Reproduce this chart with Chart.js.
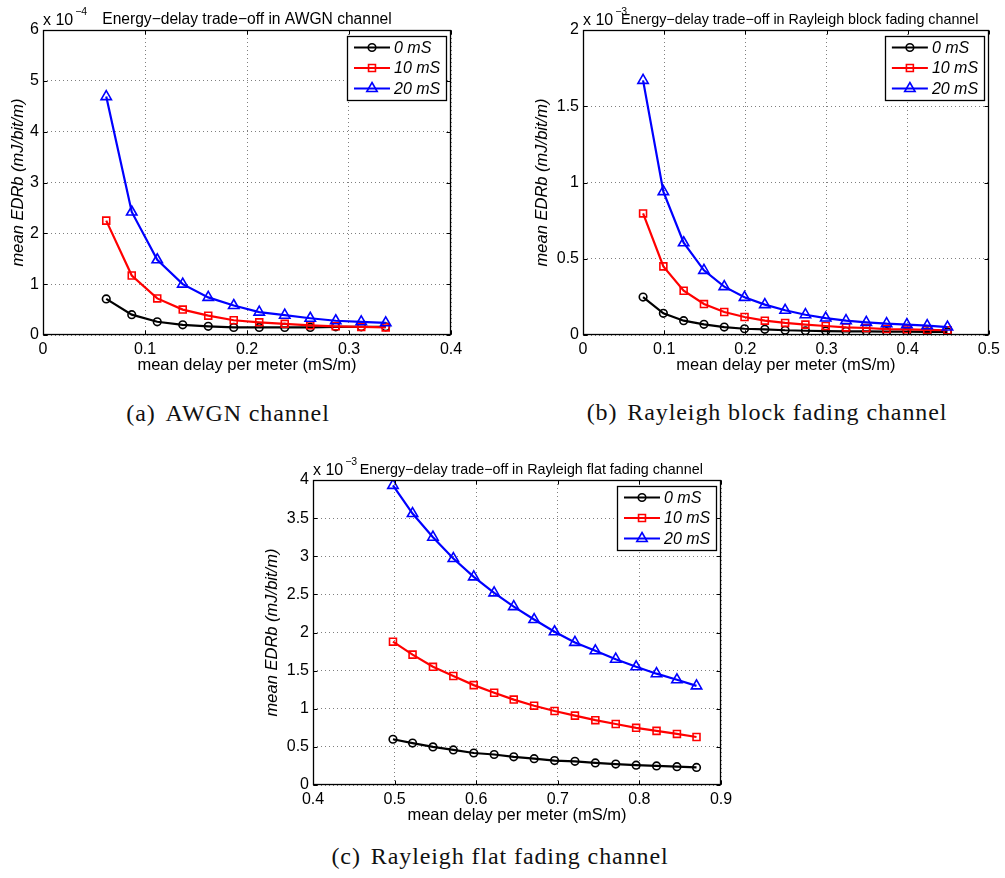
<!DOCTYPE html>
<html>
<head>
<meta charset="utf-8">
<script src="https://cdn.jsdelivr.net/npm/chart.js@4.4.1/dist/chart.umd.min.js"></script>
<style>
html,body{margin:0;padding:0;background:#fff;}
body{width:1005px;height:878px;position:relative;overflow:hidden;}
canvas{position:absolute;}
.cap{position:absolute;font-family:"Liberation Serif","Times New Roman",serif;font-size:24px;letter-spacing:0.9px;color:#111;white-space:nowrap;transform:translate(-50%,-50%);}
.cap b{font-weight:normal;margin-right:10px;}
</style>
</head>
<body>
<canvas id="cA" width="470" height="385" style="left:0px;top:0px"></canvas>
<canvas id="cB" width="485" height="385" style="left:520px;top:0px"></canvas>
<canvas id="cC" width="490" height="385" style="left:250px;top:450px"></canvas>
<div class="cap" style="left:228px;top:413px"><b>(a)</b>AWGN channel</div>
<div class="cap" style="left:767px;top:412px"><b>(b)</b>Rayleigh block fading channel</div>
<div class="cap" style="left:500px;top:856px"><b>(c)</b>Rayleigh flat fading channel</div>
<script>
// ---------- data ----------
const seriesLabels = ['0 mS', '10 mS', '20 mS'];

// (a) AWGN channel, y in units of 1e-4 mJ/bit/m
const awgnX   = [0.062, 0.087, 0.112, 0.137, 0.162, 0.187, 0.212, 0.237, 0.262, 0.287, 0.312, 0.336];
const awgn0   = [0.71, 0.40, 0.26, 0.20, 0.17, 0.15, 0.15, 0.15, 0.15, 0.16, 0.16, 0.16];
const awgn10  = [2.25, 1.17, 0.72, 0.50, 0.38, 0.29, 0.25, 0.22, 0.19, 0.17, 0.16, 0.15];
const awgn20  = [4.69, 2.42, 1.48, 1.00, 0.74, 0.58, 0.45, 0.39, 0.33, 0.28, 0.26, 0.24];
const awgnXTicks = [0, 0.1, 0.2, 0.3, 0.4];
const awgnYTicks = [0, 1, 2, 3, 4, 5, 6];

// (b) Rayleigh block fading, y in units of 1e-3
const blockX  = [0.074, 0.099, 0.124, 0.149, 0.174, 0.199, 0.224, 0.249, 0.274, 0.299, 0.324, 0.349, 0.374, 0.399, 0.424, 0.449];
const block0  = [0.249, 0.142, 0.094, 0.070, 0.052, 0.041, 0.037, 0.031, 0.028, 0.026, 0.024, 0.024, 0.022, 0.022, 0.020, 0.020];
const block10 = [0.797, 0.450, 0.290, 0.203, 0.151, 0.118, 0.094, 0.079, 0.068, 0.059, 0.050, 0.046, 0.039, 0.037, 0.033, 0.031];
const block20 = [1.670, 0.940, 0.605, 0.424, 0.317, 0.247, 0.199, 0.162, 0.133, 0.111, 0.094, 0.083, 0.074, 0.068, 0.061, 0.052];
const blockXTicks = [0, 0.1, 0.2, 0.3, 0.4, 0.5];
const blockYTicks = [0, 0.5, 1, 1.5, 2];

// (c) Rayleigh flat fading, y in units of 1e-3
const flatX   = [0.498, 0.522, 0.547, 0.572, 0.597, 0.622, 0.646, 0.671, 0.696, 0.721, 0.746, 0.771, 0.796, 0.821, 0.846, 0.870];
const flat0   = [0.60, 0.55, 0.50, 0.46, 0.42, 0.40, 0.37, 0.345, 0.32, 0.31, 0.29, 0.275, 0.26, 0.25, 0.24, 0.23];
const flat10  = [1.88, 1.71, 1.55, 1.43, 1.31, 1.21, 1.12, 1.04, 0.97, 0.91, 0.85, 0.80, 0.75, 0.71, 0.67, 0.63];
const flat20  = [3.93, 3.56, 3.25, 2.97, 2.73, 2.52, 2.34, 2.17, 2.01, 1.87, 1.76, 1.65, 1.55, 1.46, 1.38, 1.30];
const flatXTicks = [0.4, 0.5, 0.6, 0.7, 0.8, 0.9];
const flatYTicks = [0, 0.5, 1, 1.5, 2, 2.5, 3, 3.5, 4];

// ---------- styling ----------
const FONT = '"Liberation Sans", Arial, Helvetica, sans-serif';
const seriesColors  = ['#000000', '#ff0000', '#0000ff'];
const seriesMarkers = ['circle', 'rect', 'triangle'];
const markerRadius  = [3.8, 4.9, 6.0];

function drawMarker(ctx, style, x, y, r) {
  ctx.beginPath();
  if (style === 'circle') {
    ctx.arc(x, y, r, 0, Math.PI * 2);
  } else if (style === 'rect') {
    const s = r * Math.SQRT1_2;
    ctx.rect(x - s, y - s, 2 * s, 2 * s);
  } else {
    let a = 0;
    ctx.moveTo(x + Math.sin(a) * r, y - Math.cos(a) * r);
    a += 2 * Math.PI / 3;
    ctx.lineTo(x + Math.sin(a) * r, y - Math.cos(a) * r);
    a += 2 * Math.PI / 3;
    ctx.lineTo(x + Math.sin(a) * r, y - Math.cos(a) * r);
    ctx.closePath();
  }
  ctx.stroke();
}

const matlabPlugin = {
  id: 'matlab',
  afterDraw(chart, args, o) {
    const ctx = chart.ctx, a = chart.chartArea;
    const xs = chart.scales.x, ys = chart.scales.y;
    const L = Math.round(a.left) + 0.5, R = Math.round(a.right) - 0.5;
    const T = Math.round(a.top) + 0.5, B = Math.round(a.bottom) - 0.5;
    ctx.save();
    // inward ticks
    ctx.strokeStyle = '#000'; ctx.lineWidth = 1;
    ctx.beginPath();
    xs.ticks.forEach(t => {
      const p = Math.round(xs.getPixelForValue(t.value)) + 0.5;
      ctx.moveTo(p, B); ctx.lineTo(p, B - 4);
      ctx.moveTo(p, T); ctx.lineTo(p, T + 4);
    });
    ys.ticks.forEach(t => {
      const p = Math.round(ys.getPixelForValue(t.value)) + 0.5;
      ctx.moveTo(L, p); ctx.lineTo(L + 4, p);
      ctx.moveTo(R, p); ctx.lineTo(R - 4, p);
    });
    ctx.stroke();
    // box
    ctx.lineWidth = 1.3;
    ctx.strokeRect(L, T, R - L, B - T);

    // exponent label
    ctx.fillStyle = '#000';
    ctx.textBaseline = 'alphabetic'; ctx.textAlign = 'left';
    ctx.font = '16px ' + FONT;
    const base = 'x 10';
    ctx.fillText(base, a.left, a.top - 5);
    const bw = ctx.measureText(base).width;
    ctx.font = '10.5px ' + FONT;
    ctx.fillText(o.exponent, a.left + bw + 2, a.top - 15);

    // title
    ctx.font = o.titleSize + 'px ' + FONT;
    ctx.textAlign = 'center';
    ctx.fillText(o.title, (a.left + a.right) / 2 + o.titleShift, a.top - 6);

    // legend
    const bx = a.right - 5 - 99, by = a.top + 6, bwid = 99, bh = 64;
    ctx.fillStyle = '#fff';
    ctx.fillRect(Math.round(bx) + 0.5, Math.round(by) + 0.5, bwid, bh);
    ctx.strokeStyle = '#000'; ctx.lineWidth = 1.3;
    ctx.strokeRect(Math.round(bx) + 0.5, Math.round(by) + 0.5, bwid, bh);
    chart.data.datasets.forEach((ds, i) => {
      const cy = by + 11.5 + 20.5 * i;
      ctx.strokeStyle = ds.borderColor; ctx.lineWidth = 2.2;
      ctx.beginPath(); ctx.moveTo(bx + 7, cy); ctx.lineTo(bx + 43, cy); ctx.stroke();
      ctx.lineWidth = 1.6;
      drawMarker(ctx, ds.pointStyle, bx + 25, cy, ds.pointRadius);
      ctx.fillStyle = '#000';
      ctx.font = 'italic 16px ' + FONT;
      ctx.textAlign = 'left'; ctx.textBaseline = 'middle';
      ctx.fillText(ds.label, bx + 47, cy + 1);
    });
    ctx.restore();
  }
};

function makeChart(id, spec) {
  const canvas = document.getElementById(id);
  const W = canvas.width, H = canvas.height;
  const areaTop = 30, areaBottom = 335, xAxisH = 40.3;
  const yTitleHalf = 16.5 * 1.2 / 2;
  const padLeft = spec.yTitleX - yTitleHalf;
  const datasets = spec.series.map((vals, i) => ({
    label: seriesLabels[i],
    data: spec.xs.map((x, j) => ({ x: x, y: vals[j] })),
    borderColor: seriesColors[i],
    backgroundColor: 'rgba(0,0,0,0)',
    borderWidth: 2.2,
    pointStyle: seriesMarkers[i],
    pointRadius: markerRadius[i],
    pointBorderWidth: 1.6,
    pointBorderColor: seriesColors[i],
    pointBackgroundColor: 'rgba(255,255,255,0)',
    tension: 0,
    fill: false,
    order: 3 - i
  }));
  const tickFont = { family: FONT, size: 16 };
  return new Chart(canvas, {
    type: 'line',
    data: { datasets: datasets },
    options: {
      responsive: false,
      animation: false,
      devicePixelRatio: 1,
      layout: { padding: { left: padLeft, right: W - spec.areaRight, top: areaTop, bottom: H - (areaBottom + xAxisH) } },
      plugins: {
        legend: { display: false },
        tooltip: { enabled: false },
        matlab: { title: spec.title, titleSize: spec.titleSize, titleShift: spec.titleShift, exponent: spec.exponent }
      },
      scales: {
        x: {
          type: 'linear',
          min: spec.xTicks[0], max: spec.xTicks[spec.xTicks.length - 1],
          afterBuildTicks: s => { s.ticks = spec.xTicks.map(v => ({ value: v })); },
          afterFit: s => { s.height = xAxisH; },
          ticks: { font: tickFont, color: '#000', padding: 5, maxRotation: 0, autoSkip: false, callback: v => String(v) },
          grid: { color: 'rgba(0,0,0,0.5)', lineWidth: 1, drawTicks: false },
          border: { display: false, dash: [1, 3] },
          title: { display: true, text: 'mean delay per meter (mS/m)', font: { family: FONT, size: 16.5 }, color: '#000', padding: 0 }
        },
        y: {
          type: 'linear',
          min: spec.yTicks[0], max: spec.yTicks[spec.yTicks.length - 1],
          afterBuildTicks: s => { s.ticks = spec.yTicks.map(v => ({ value: v })); },
          afterFit: s => { s.width = spec.areaLeft - padLeft; },
          ticks: { font: tickFont, color: '#000', padding: 4, autoSkip: false, callback: v => String(v) },
          grid: { color: 'rgba(0,0,0,0.5)', lineWidth: 1, drawTicks: false },
          border: { display: false, dash: [1, 3] },
          title: { display: true, text: 'mean EDRb (mJ/bit/m)', font: { family: FONT, size: 16.5, style: 'italic' }, color: '#000', padding: 0 }
        }
      }
    },
    plugins: [matlabPlugin]
  });
}

makeChart('cA', {
  xs: awgnX, series: [awgn0, awgn10, awgn20], xTicks: awgnXTicks, yTicks: awgnYTicks,
  exponent: '\u22124', title: 'Energy\u2212delay trade\u2212off in AWGN channel', titleSize: 15.6, titleShift: 0,
  areaLeft: 43, areaRight: 451, yTitleX: 18.3
});
makeChart('cB', {
  xs: blockX, series: [block0, block10, block20], xTicks: blockXTicks, yTicks: blockYTicks,
  exponent: '\u22123', title: 'Energy\u2212delay trade\u2212off in Rayleigh block fading channel', titleSize: 14.3, titleShift: 13.8,
  areaLeft: 63, areaRight: 471, yTitleX: 22.5
});
makeChart('cC', {
  xs: flatX, series: [flat0, flat10, flat20], xTicks: flatXTicks, yTicks: flatYTicks,
  exponent: '\u22123', title: 'Energy\u2212delay trade\u2212off in Rayleigh flat fading channel', titleSize: 14.3, titleShift: 14.3,
  areaLeft: 63, areaRight: 471, yTitleX: 22.5
});
</script>
</body>
</html>
